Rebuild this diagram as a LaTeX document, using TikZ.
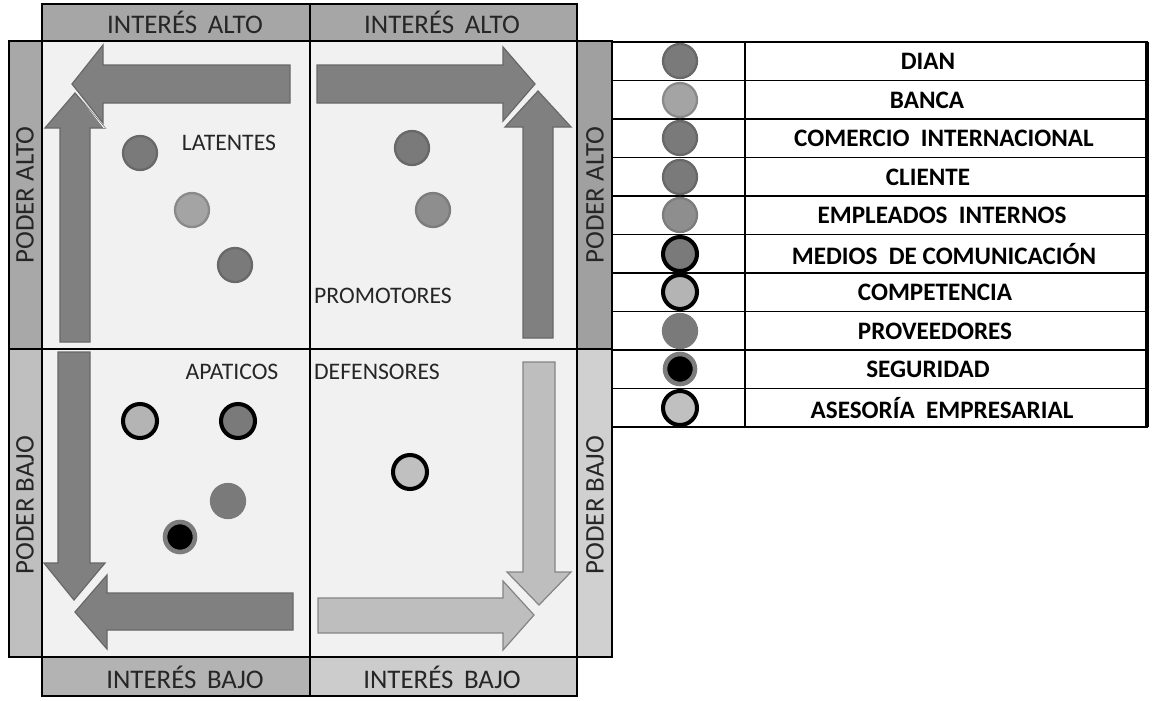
\documentclass[tikz,border=0pt]{standalone}
\usepackage{fontspec}
\setmainfont{Carlito}
\definecolor{quad}{HTML}{F1F1F1}
\definecolor{hdrtop}{HTML}{A6A6A6}
\definecolor{stripA}{HTML}{A8A8A8}
\definecolor{stripB}{HTML}{BFBFBF}
\definecolor{stripC}{HTML}{A0A0A0}
\definecolor{stripD}{HTML}{D0D0D0}
\definecolor{hdrbotA}{HTML}{B3B3B3}
\definecolor{hdrbotB}{HTML}{CCCCCC}
\definecolor{arrdark}{HTML}{808080}
\definecolor{arrdarkline}{HTML}{686868}
\definecolor{arrlight}{HTML}{BEBEBE}
\definecolor{arrlightline}{HTML}{858585}
\definecolor{gdark}{HTML}{7A7A7A}
\definecolor{gdarkring}{HTML}{686868}
\definecolor{gmid}{HTML}{8E8E8E}
\definecolor{gmidring}{HTML}{7C7C7C}
\definecolor{glight}{HTML}{A4A4A4}
\definecolor{glightring}{HTML}{8A8A8A}
\definecolor{gpale}{HTML}{B4B4B4}
\definecolor{gpaler}{HTML}{C0C0C0}

% arrow outlines (pixel grid, y downwards)
\newcommand\pathTLup[1]{\path[#1] (60,342) -- (60,128) -- (45,128) -- (75,93) -- (105,128) -- (90,128) -- (90,342) -- cycle;}
\newcommand\pathTLleft[1]{\path[#1] (290,65) -- (103,65) -- (103,45) -- (72,84) -- (103,123) -- (103,103) -- (290,103) -- cycle;}
\newcommand\pathTRup[1]{\path[#1] (523,338) -- (523,127) -- (505,127) -- (538,91) -- (571,127) -- (553,127) -- (553,338) -- cycle;}
\newcommand\pathTRright[1]{\path[#1] (317,65) -- (503,65) -- (503,47) -- (535,84) -- (503,121) -- (503,103) -- (317,103) -- cycle;}
\newcommand\pathBLdown[1]{\path[#1] (58,352) -- (58,563) -- (44,563) -- (74,600) -- (105,563) -- (90,563) -- (90,352) -- cycle;}
\newcommand\pathBLleft[1]{\path[#1] (293,593) -- (107,593) -- (107,575) -- (75,612) -- (107,649) -- (107,630) -- (293,630) -- cycle;}
\newcommand\pathBRdown[1]{\path[#1] (523,362) -- (523,572) -- (507,572) -- (539,605) -- (571,572) -- (555,572) -- (555,362) -- cycle;}
\newcommand\pathBRright[1]{\path[#1] (318,598) -- (503,598) -- (503,581) -- (534,615) -- (503,650) -- (503,633) -- (318,633) -- cycle;}

\tikzset{
  frame/.style={draw=black, line width=1.1pt},
  dot/.style={circle, inner sep=0pt, minimum size=0.68cm, line width=1.3pt},
  ringdot/.style={circle, inner sep=0pt, minimum size=0.68cm, draw=black, line width=2.3pt},
  secdot/.style={circle, inner sep=0pt, minimum size=0.6cm, fill=black, draw=gmidring, line width=2.6pt},
  axis/.style={font=\fontsize{15.3}{18}\selectfont, text=black!85},
  quadlbl/.style={font=\fontsize{13.5}{16}\selectfont, text=black!85},
  legtxt/.style={font=\bfseries\fontsize{14.3}{17}\selectfont, text=black},
  darkarrow/.style={fill=arrdark, draw=arrdarkline, line width=0.7pt},
  lightarrow/.style={fill=arrlight, draw=arrlightline, line width=0.7pt},
}

\begin{document}
\begin{tikzpicture}[x=0.02cm, y=-0.02cm]
\useasboundingbox (0,0) rectangle (1152,700);
\fill[white] (0,0) rectangle (1152,700);

% quadrant backgrounds
\fill[quad] (42,41) rectangle (577,657);

% headers and side strips
\fill[hdrtop] (42,4) rectangle (310,41);
\fill[hdrtop] (310,4) rectangle (577,41);
\fill[stripA] (9,41) rectangle (42,349);
\fill[stripB] (9,349) rectangle (42,657);
\fill[stripC] (577,41) rectangle (612,349);
\fill[stripD] (577,349) rectangle (612,657);
\fill[hdrbotA] (42,657) rectangle (310,696);
\fill[hdrbotB] (310,657) rectangle (577,696);

\draw[frame] (42,4) rectangle (310,41);
\draw[frame] (310,4) rectangle (577,41);
\draw[frame] (9,41) rectangle (42,657);
\draw[frame] (9,349) -- (42,349);
\draw[frame] (577,41) rectangle (612,657);
\draw[frame] (577,349) -- (612,349);
\draw[frame] (42,657) rectangle (310,696);
\draw[frame] (310,657) rectangle (577,696);
\draw[frame] (42,41) rectangle (577,657);
\draw[frame] (310,41) -- (310,657);
\draw[frame] (42,349) -- (577,349);

\node[axis] (ia1) at (185,22) {INTERÉS\ \,ALTO};
\node[axis] (ia2) at (442,22) {INTERÉS\ \,ALTO};
\node[axis] (ib1) at (185,677) {INTERÉS\ \,BAJO};
\node[axis] (ib2) at (442,677) {INTERÉS\ \,BAJO};
\node[axis, rotate=90] (pa1) at (25,195) {PODER ALTO};
\node[axis, rotate=90] (pb1) at (25,505) {PODER BAJO};
\node[axis, rotate=90] (pa2) at (595,195) {PODER ALTO};
\node[axis, rotate=90] (pb2) at (595,505) {PODER BAJO};

% circulating arrows: vertical ones first, horizontal ones on top with a white seam
\pathTLup{darkarrow}
\begin{scope}\pathTLup{clip}\pathTLleft{draw=white, line width=3pt}\end{scope}
\pathTLleft{darkarrow}

\pathTRup{darkarrow}
\begin{scope}\pathTRup{clip}\pathTRright{draw=white, line width=3pt}\end{scope}
\pathTRright{darkarrow}

\pathBLdown{darkarrow}
\begin{scope}\pathBLdown{clip}\pathBLleft{draw=white, line width=3pt}\end{scope}
\pathBLleft{darkarrow}

\pathBRdown{lightarrow}
\begin{scope}\pathBRdown{clip}\pathBRright{draw=white, line width=3pt}\end{scope}
\pathBRright{lightarrow}

% quadrant names
\node[quadlbl] (lat) at (229,143) {LATENTES};
\node[quadlbl] (pro) at (383,296) {PROMOTORES};
\node[quadlbl] (apa) at (232,372) {APATICOS};
\node[quadlbl] (def) at (377,372) {DEFENSORES};

% stakeholders in the grid
\node[dot, fill=gdark, draw=gdarkring] (q1) at (140,153) {};
\node[dot, fill=glight, draw=glightring] (q2) at (192,210) {};
\node[dot, fill=gdark, draw=gdarkring] (q3) at (235,265) {};
\node[dot, fill=gdark, draw=gdarkring] (q4) at (412,148) {};
\node[dot, fill=gmid, draw=gmidring] (q5) at (433,210) {};
\node[ringdot, fill=gpale] (q6) at (140,421) {};
\node[ringdot, fill=gdark] (q7) at (238,421) {};
\node[dot, fill=gdark, draw=gdark] (q8) at (228,501) {};
\node[secdot] (q9) at (180,537) {};
\node[ringdot, fill=gpaler] (q10) at (410,472) {};

% legend table
\draw[black, line width=1.1pt] (612,42) rectangle (1147,427);
\draw[black, line width=2pt] (1147,42) -- (1147,427);
\draw[black, line width=1.1pt] (745,42) -- (745,427);
\foreach \r in {1,...,9}
  \draw[black, line width=1pt] (612,42+38.5*\r) -- (1147,42+38.5*\r);

\node[dot, fill=gdark, draw=gdarkring] (k1) at (680,61) {};
\node[dot, fill=glight, draw=glightring] (k2) at (680,100) {};
\node[dot, fill=gdark, draw=gdarkring] (k3) at (680,138) {};
\node[dot, fill=gdark, draw=gdarkring] (k4) at (680,177) {};
\node[dot, fill=gmid, draw=gmidring] (k5) at (680,215) {};
\node[ringdot, fill=gdark] (k6) at (680,254) {};
\node[ringdot, fill=gpale] (k7) at (680,292) {};
\node[dot, fill=gdark, draw=gdark] (k8) at (680,331) {};
\node[secdot] (k9) at (680,369) {};
\node[ringdot, fill=gpaler] (k10) at (680,408) {};

\node[legtxt] (t1) at (928,61) {DIAN};
\node[legtxt] (t2) at (927,100) {BANCA};
\node[legtxt] (t3) at (944,138) {COMERCIO\ \ INTERNACIONAL};
\node[legtxt] (t4) at (928,177) {CLIENTE};
\node[legtxt] (t5) at (942,215) {EMPLEADOS\ \ INTERNOS};
\node[legtxt] (t6) at (944,254) {MEDIOS\ \ DE COMUNICACIÓN};
\node[legtxt] (t7) at (935,292) {COMPETENCIA};
\node[legtxt] (t8) at (935,331) {PROVEEDORES};
\node[legtxt] (t9) at (928,369) {SEGURIDAD};
\node[legtxt] (t10) at (942,408) {ASESORÍA\ \ EMPRESARIAL};
\end{tikzpicture}
\end{document}
